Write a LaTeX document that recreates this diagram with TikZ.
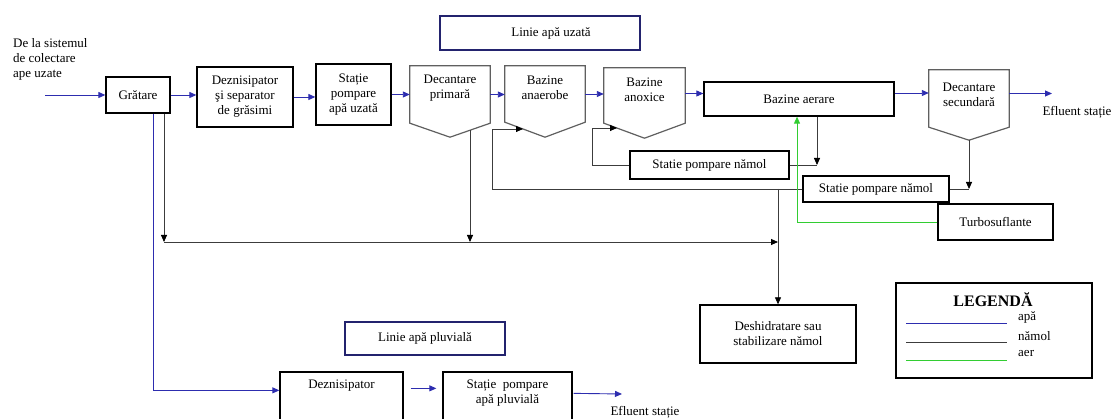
\documentclass[tikz,border=0pt]{standalone}
\usepackage{fontspec}
\setmainfont{Liberation Serif}
\usepackage{tikz}
\usetikzlibrary{arrows.meta, positioning, calc}
\definecolor{waterblue}{RGB}{45,45,175}
\definecolor{sludgegray}{RGB}{60,60,60}
\definecolor{airgreen}{RGB}{50,205,50}
\definecolor{framenavy}{RGB}{35,35,110}
\definecolor{tankgray}{RGB}{95,95,95}
\newcommand{\plantfont}{\fontsize{13}{15}\selectfont}
\tikzstyle{unit} = [rectangle, draw=black, line width=1.3pt, align=center, inner sep=2pt, font=\plantfont]
\tikzstyle{tankbody} = [rectangle, draw=none, inner sep=0pt]
\tikzstyle{tanktext} = [align=center, inner sep=0pt, font=\plantfont]
\tikzstyle{tankline} = [draw=tankgray, line width=1.2pt]
\tikzstyle{linetitle} = [rectangle, draw=framenavy, line width=1.3pt, font=\plantfont]
\tikzstyle{note} = [align=left, inner sep=0pt, font=\plantfont]
\tikzstyle{waterline} = [draw=waterblue, line width=0.9pt]
\tikzstyle{sludgeline} = [draw=sludgegray, line width=0.8pt]
\tikzstyle{airline} = [draw=airgreen, line width=0.9pt]
\tikzstyle{water} = [waterline, -{Triangle[length=7pt,width=6pt]}]
\tikzstyle{sludge} = [sludgeline, -{Triangle[length=7pt,width=6pt,color=black]}]
\tikzstyle{air} = [airline, -{Triangle[length=7pt,width=6pt]}]

\begin{document}
\begin{tikzpicture}[x=1pt, y=-1pt]
\useasboundingbox (0,0) rectangle (1115,419);
\clip (0,0) rectangle (1115,419);

% ===== INLET =====
\node (src) [note, anchor=north west] at (13,38) {De la sistemul\\de colectare\\ape uzate};
\coordinate (inlet) at (45,95);

% ===== WASTEWATER LINE (TOP) =====
\node (ww_title) [linetitle, minimum width=200pt, minimum height=34pt] at (540,33) {\hspace*{22pt}Linie apă uzată};
\node (grat) [unit, minimum width=64pt, minimum height=36pt] at (138,95) {Grătare};
\node (dez) [unit, minimum width=96pt, minimum height=60pt] at (245,97) {Deznisipator\\şi separator\\de grăsimi};
\node (spau) [unit, minimum width=75pt, minimum height=61pt] at (353.5,94.5) {Stație\\pompare\\apă uzată};
\node (decprim) [tankbody, minimum width=80pt, minimum height=57pt] at (450,94.5) {};
\node (anaer) [tankbody, minimum width=80pt, minimum height=56pt] at (545,94) {};
\node (anox) [tankbody, minimum width=81pt, minimum height=55pt] at (644.5,95.5) {};
\node (aer) [unit, minimum width=190pt, minimum height=34pt] at (799,99) {Bazine aerare};
\node (decsec) [tankbody, minimum width=80pt, minimum height=57pt] at (969,98.5) {};

% tank labels sit near the top edge
\node (decprim_txt) [tanktext, below=9pt of decprim.north] {Decantare\\primară};
\node (anaer_txt) [tanktext, below=10pt of anaer.north] {Bazine\\anaerobe};
\node (anox_txt) [tanktext, below=10pt of anox.north] {Bazine\\anoxice};
\node (decsec_txt) [tanktext, below=13pt of decsec.north] {Decantare\\secundară};

% pointed bottom of the tanks
\foreach \t/\d in {decprim/14, anaer/15, anox/15, decsec/13}
  \draw [tankline] (\t.north west) -- (\t.north east) -- (\t.south east) -- ([yshift=-\d pt]\t.south) -- (\t.south west) -- cycle;

\node (eff_top) [note] at (1077,112) {Efluent stație};
\coordinate (eff_top_in) at (1052,93.5);

% ===== SLUDGE HANDLING =====
\node (pump1) [unit, minimum width=159pt, minimum height=28pt] at (709.5,165) {Statie pompare nămol};
\node (pump2) [unit, minimum width=146pt, minimum height=26pt] at (876,189) {Statie pompare nămol};
\node (turbo) [unit, minimum width=115pt, minimum height=36pt] at (995.5,222) {Turbosuflante};
\node (deshid) [unit, minimum width=156pt, minimum height=58pt] at (778,334) {Deshidratare sau\\stabilizare nămol};

\coordinate (j1) at (164,242);
\coordinate (dp_out) at (470,130);
\coordinate (anaer_in) at (523,129);
\coordinate (anox_in) at (617,128);
\coordinate (decsec_tip) at ([yshift=-13pt]decsec.south);

% ===== RAINWATER LINE (BOTTOM) =====
\node (rw_title) [linetitle, minimum width=160pt, minimum height=33pt] at (425,338.5) {Linie apă pluvială};
\node (dez2) [unit, minimum width=123pt, minimum height=58pt] at (341.5,401) {};
\node (dez2_txt) [tanktext, below=8pt of dez2.north] {Deznisipator};
\node (sppl) [unit, minimum width=129pt, minimum height=58pt] at (507.5,401) {};
\node (sppl_txt) [tanktext, below=8pt of sppl.north] {Stație\ \ pompare\\apă pluvială};
\node (eff_bot) [note] at (645,412) {Efluent stație};
\coordinate (eff_bot_in) at (622,394);

% ===== LEGEND =====
\node (legend) [unit, minimum width=196pt, minimum height=95pt] at (994,330.5) {};
\node (legend_title) [font=\fontsize{16}{18}\selectfont\bfseries] at (993,300) {LEGENDĂ};
\node (lg_apa) [note, anchor=west] at (1018,317) {apă};
\node (lg_namol) [note, anchor=west] at (1018,336) {nămol};
\node (lg_aer) [note, anchor=west] at (1018,353) {aer};
\draw [waterline] ($(lg_apa.west)+(-112,6)$) -- ($(lg_apa.west)+(-11,6)$);
\draw [sludgeline] ($(lg_namol.west)+(-112,6)$) -- ($(lg_namol.west)+(-11,6)$);
\draw [airline] ($(lg_aer.west)+(-112,7)$) -- ($(lg_aer.west)+(-11,7)$);

% ===== ARROWS =====
% Water flow
\draw [water] (inlet) -- (inlet -| grat.west);
\draw [water] (grat.east) -- (grat.east -| dez.west);
\draw [water] (dez.east) -- (dez.east -| spau.west);
\draw [water] (spau.east) -- (spau.east -| decprim.west);
\draw [water] (decprim.east) -- (decprim.east -| anaer.west);
\draw [water] (anaer.east) -- (anaer.east -| anox.west);
\draw [water] ([yshift=2pt]anox.east) -- ([yshift=2pt]anox.east -| aer.west);
\draw [water] ([yshift=6pt]aer.east) -- ([yshift=6pt]aer.east -| decsec.west);
\draw [water] ([yshift=5pt]decsec.east) -- (eff_top_in);

% Rainwater bypass
\draw [water] ([xshift=15pt]grat.south) |- ($(dez2.north west)+(0,19)$);
\draw [water] ($(dez2.north east)+(7,17)$) -- ($(sppl.north west)+(-6,17)$);
\draw [water] ($(sppl.north east)+(1,22)$) -- (eff_bot_in);

% Sludge flow
\draw [sludge] (grat.south -| j1) -- (j1);
\draw [sludge] (dp_out) -- (dp_out |- j1);
\draw [sludge] (j1) -- (j1 -| deshid.north);
\draw [sludge] (pump2.west -| deshid.north) -- (deshid.north);
\draw [sludge] ([xshift=18pt]aer.south) -- ([xshift=18pt]aer.south |- pump1.east);
\draw [sludgeline] (pump1.east) -- ([xshift=18pt]aer.south |- pump1.east);
\draw [sludge] (pump1.west) -| ($(anox_in)+(-25,0)$) -- (anox_in);
\draw [sludge] (decsec_tip) -- (decsec_tip |- pump2.east);
\draw [sludgeline] (pump2.east) -- (decsec_tip |- pump2.east);
\draw [sludge] (pump2.west) -| ($(anaer_in)+(-31,0)$) -- (anaer_in);

% Air supply
\draw [air] (turbo.west) -| ([xshift=-2pt]aer.south);

\end{tikzpicture}
\end{document}
